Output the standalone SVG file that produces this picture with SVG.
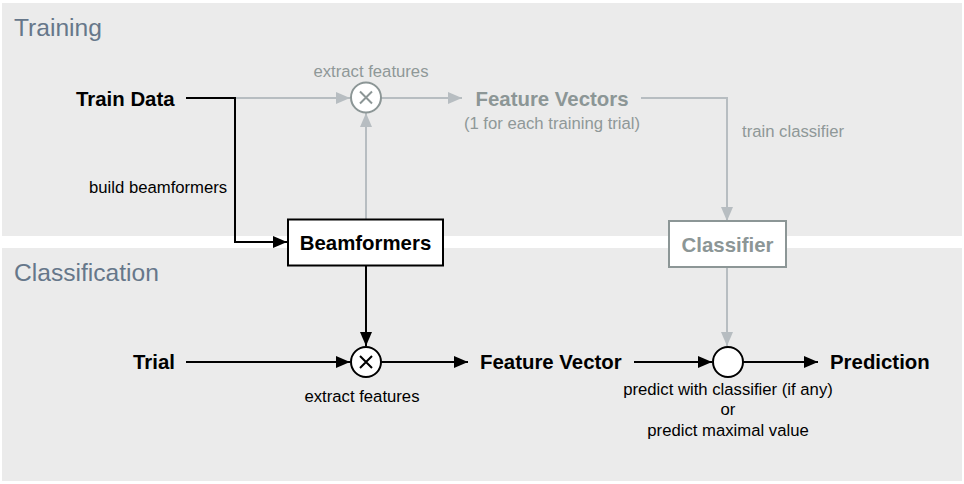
<svg xmlns="http://www.w3.org/2000/svg" width="964" height="484" viewBox="0 0 964 484">
<defs>
<marker id="ab" markerUnits="userSpaceOnUse" markerWidth="14" markerHeight="12" refX="14" refY="6" orient="auto"><path d="M0,0 L14,6 L0,12 Z" fill="#000"/></marker>
<marker id="ag" markerUnits="userSpaceOnUse" markerWidth="14" markerHeight="12" refX="14" refY="6" orient="auto"><path d="M0,0 L14,6 L0,12 Z" fill="#b7bdc1"/></marker>
</defs>
<style>
text{font-family:"Liberation Sans",Arial,Helvetica,sans-serif}
.panel{fill:#ebebeb}
.title{font-size:24.6px;fill:#66778a}
.bold{font-size:20.4px;font-weight:bold;fill:#000}
.gbold{font-size:20.4px;font-weight:bold;fill:#8c9696}
.lbl{font-size:16.7px;fill:#000}
.glbl{font-size:16.7px;fill:#8f9898}
.bl{fill:none;stroke:#000;stroke-width:2}
.gl{fill:none;stroke:#b7bdc1;stroke-width:2}
.box{fill:#fff;stroke:#000;stroke-width:2}
.gbox{fill:#fff;stroke:#8c9696;stroke-width:2}
.circ{fill:#fff;stroke:#000;stroke-width:2}
.gcirc{fill:#fff;stroke:#8c9696;stroke-width:2}
</style>
<rect width="964" height="484" fill="#fff"/>
<g id="panels">
<rect class="panel" x="2" y="3" width="960" height="233"/>
<rect class="panel" x="2" y="248" width="960" height="233"/>
<text class="title" x="14" y="36">Training</text>
<text class="title" x="14" y="281">Classification</text>
</g>
<g id="connectors">
<path class="gl" d="M236,98 H350" marker-end="url(#ag)"/>
<path class="bl" d="M186,98 H235 V242 H287" marker-end="url(#ab)"/>
<path class="gl" d="M366,219 V113" marker-end="url(#ag)"/>
<path class="gl" d="M381,98 H462" marker-end="url(#ag)"/>
<path class="gl" d="M641,98 H727 V221" marker-end="url(#ag)"/>
<path class="gl" d="M727,267 V346" marker-end="url(#ag)"/>
<path class="bl" d="M366,266 V346" marker-end="url(#ab)"/>
<path class="bl" d="M186,362 H350" marker-end="url(#ab)"/>
<path class="bl" d="M381,362 H468" marker-end="url(#ab)"/>
<path class="bl" d="M634,362 H712" marker-end="url(#ab)"/>
<path class="bl" d="M743,362 H818" marker-end="url(#ab)"/>
<text class="lbl" x="89" y="193">build beamformers</text>
<text class="glbl" x="742" y="137">train classifier</text>
</g>
<g id="train-data"><text class="bold" x="76" y="106">Train Data</text></g>
<g id="extract-train">
<circle class="gcirc" cx="366" cy="97.5" r="15"/>
<path d="M360,91.5 L372,103.5 M372,91.5 L360,103.5" stroke="#8c9696" stroke-width="2"/>
<text class="glbl" x="371" y="77" text-anchor="middle">extract features</text>
</g>
<g id="feature-vectors">
<text class="gbold" x="552" y="106" text-anchor="middle">Feature Vectors</text>
<text class="glbl" x="552" y="129" text-anchor="middle">(1 for each training trial)</text>
</g>
<g id="beamformers">
<rect class="box" x="288" y="219.5" width="155" height="46"/>
<text class="bold" x="365.5" y="250" text-anchor="middle">Beamformers</text>
</g>
<g id="classifier">
<rect class="gbox" x="669" y="221" width="117" height="46"/>
<text class="gbold" x="727.5" y="252" text-anchor="middle">Classifier</text>
</g>
<g id="trial"><text class="bold" x="133" y="369">Trial</text></g>
<g id="extract-class">
<circle class="circ" cx="366" cy="362" r="15"/>
<path d="M360,356 L372,368 M372,356 L360,368" stroke="#000" stroke-width="2"/>
<text class="lbl" x="362" y="402" text-anchor="middle">extract features</text>
</g>
<g id="feature-vector"><text class="bold" x="480" y="369">Feature Vector</text></g>
<g id="predict">
<circle class="circ" cx="728" cy="362" r="15"/>
<text class="lbl" x="728" y="395" text-anchor="middle">predict with classifier (if any)</text>
<text class="lbl" x="728" y="415" text-anchor="middle">or</text>
<text class="lbl" x="728" y="436" text-anchor="middle">predict maximal value</text>
</g>
<g id="prediction"><text class="bold" x="830" y="369">Prediction</text></g>
</svg>
